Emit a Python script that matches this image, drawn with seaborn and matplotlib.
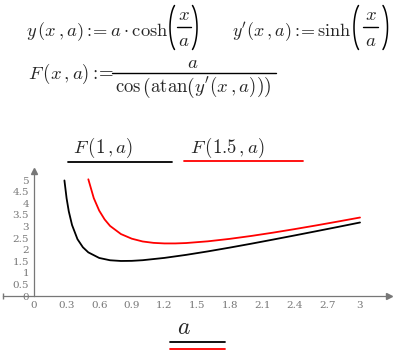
import numpy as np
import pandas as pd
import matplotlib
matplotlib.use("Agg")
import matplotlib.pyplot as plt
import seaborn as sns

# Values
a_black = [0.28, 0.30, 0.32, 0.35, 0.40, 0.45, 0.50, 0.60, 0.70, 0.80, 0.90, 1.00,
           1.20, 1.40, 1.60, 1.80, 2.00, 2.20, 2.40, 2.60, 2.80, 3.00]
F_black = [4.98, 4.21, 3.65, 3.06, 2.45, 2.10, 1.88, 1.64, 1.54, 1.51, 1.515, 1.543,
           1.642, 1.773, 1.923, 2.085, 2.255, 2.432, 2.612, 2.795, 2.980, 3.168]
a_red = [0.50, 0.55, 0.60, 0.65, 0.70, 0.80, 0.90, 1.00, 1.10, 1.20, 1.30, 1.40,
         1.60, 1.80, 2.00, 2.20, 2.40, 2.60, 2.80, 3.00]
F_red = [5.03, 4.22, 3.68, 3.30, 3.02, 2.67, 2.47, 2.35, 2.29, 2.266, 2.266, 2.283,
         2.357, 2.462, 2.589, 2.731, 2.884, 3.045, 3.212, 3.383]
x_ticks = [0, 0.3, 0.6, 0.9, 1.2, 1.5, 1.8, 2.1, 2.4, 2.7, 3]
x_tick_labels = ["0", "0.3", "0.6", "0.9", "1.2", "1.5", "1.8", "2.1", "2.4", "2.7", "3"]
y_ticks = [0, 0.5, 1, 1.5, 2, 2.5, 3, 3.5, 4, 4.5, 5]
y_tick_labels = ["0", "0.5", "1", "1.5", "2", "2.5", "3", "3.5", "4", "4.5", "5"]
series_names = ["F(1,a)", "F(1.5,a)"]

sns.set_style("white")
plt.rcParams["mathtext.fontset"] = "cm"

df = pd.concat([
    pd.DataFrame({"a": a_black, "F": F_black, "s": series_names[0]}),
    pd.DataFrame({"a": a_red, "F": F_red, "s": series_names[1]}),
])

W, H = 400, 355
fig = plt.figure(figsize=(W / 100, H / 100), dpi=100)

x0px, x3px = 34, 360
ppu_x = (x3px - x0px) / 3.0
y0px, y5px = 296, 180
ppu_y = (y0px - y5px) / 5.0
ax_l, ax_r = 2, 392
xmin = (ax_l - x0px) / ppu_x
xmax = (ax_r - x0px) / ppu_x
ymin, ymax = -0.3, 5.45
bot_px = y0px - ymin * ppu_y
top_px = y0px - ymax * ppu_y
ax = fig.add_axes([ax_l / W, (H - bot_px) / H, (ax_r - ax_l) / W, (bot_px - top_px) / H])

sns.lineplot(data=df, x="a", y="F", hue="s", palette=["black", "red"],
             ax=ax, legend=False, linewidth=1.3, sort=False, estimator=None)

ax.set_xlim(xmin, xmax)
ax.set_ylim(ymin, ymax)
gray = "#777777"
for s in ["top", "right"]:
    ax.spines[s].set_visible(False)
ax.spines["left"].set_position(("data", 0))
ax.spines["bottom"].set_position(("data", 0))
for s in ["left", "bottom"]:
    ax.spines[s].set_color(gray)
    ax.spines[s].set_linewidth(0.9)
ax.spines["left"].set_bounds(0, ymax - 0.05)
ax.spines["bottom"].set_bounds(xmin + 0.01, xmax - 0.03)
ax.plot([xmax - 0.03], [0], marker=">", color=gray, markersize=5, clip_on=False)
ax.plot([0], [ymax - 0.05], marker="^", color=gray, markersize=5, clip_on=False)
ax.plot([xmin + 0.01], [0], marker="|", color=gray, markersize=5, clip_on=False)

ax.set_xticks(x_ticks)
ax.set_xticklabels(x_tick_labels)
ax.set_yticks(y_ticks)
ax.set_yticklabels(y_tick_labels)
ax.tick_params(axis="both", direction="inout", length=5, width=0.8, color=gray,
               labelcolor=gray, labelsize=7.5, pad=1)
for lab in ax.get_xticklabels() + ax.get_yticklabels():
    lab.set_family("DejaVu Serif")
ax.set_xlabel("")
ax.set_ylabel("")
ax.patch.set_alpha(0)


def T(x, y, s, fs=13.5, ha="left", va="center"):
    fig.text(x / W, 1 - y / H, s, fontsize=fs, ha=ha, va=va)


def HL(x1, x2, y, color="black", lw=1.0):
    fig.add_artist(plt.Line2D([x1 / W, x2 / W], [1 - y / H, 1 - y / H], color=color, lw=lw))


def PAREN(x_mid, x_end, y_c, half_h, lw=1.1):
    # big bracket drawn as an elliptic arc (x_mid: bulge, x_end: tips)
    th = np.radians(60)
    t = np.linspace(-th, th, 40)
    w = (x_end - x_mid) / (1 - np.cos(th))
    h = half_h / np.sin(th)
    xs = x_mid + w * (1 - np.cos(t))
    ys = y_c + h * np.sin(t)
    fig.add_artist(plt.Line2D(xs / W, 1 - ys / H, color="black", lw=lw,
                              solid_capstyle="round"))


defn = r"{:}\!\!="
# formula 1: y(x,a) := a*cosh(x/a)
T(168, 32, r"$y\,(x\,,a)" + defn + r"a\cdot\cosh$", fs=13.3, ha="right")
PAREN(170, 174.5, 27.5, 22)
T(183.5, 15, r"$x$", ha="center")
HL(177, 191, 27)
T(183.5, 40, r"$a$", ha="center")
PAREN(197, 192.5, 27.5, 22)
# formula 2: y'(x,a) := sinh(x/a)
T(352, 32, r"$y'(x\,,a)" + defn + r"\sinh$", fs=13, ha="right")
PAREN(354, 358.5, 27.5, 22)
T(370.5, 15, r"$x$", ha="center")
HL(363, 378, 27)
T(370.5, 40, r"$a$", ha="center")
PAREN(387.5, 383, 27.5, 22)
# formula 3: F(x,a) := a / cos(atan(y'(x,a)))
T(28, 74, r"$F\,(x\,,a)" + defn + r"$")
T(193, 62, r"$a$", ha="center")
HL(112, 276, 73)
T(193, 87, r"$\cos\left(\mathrm{atan}\left(y'(x\,,a)\right)\right)$", ha="center")

# legend
T(73, 148, r"$F\,(1\,,a)$")
T(190, 148, r"$F\,(1.5\,,a)$")
HL(68, 172, 162, "black", 1.3)
HL(184, 303, 161, "red", 1.3)

# x label
T(184, 327, r"$a$", fs=17, ha="center")
HL(170, 225, 342, "black", 1.3)
HL(170, 225, 349, "red", 1.3)

fig.savefig("out.png", dpi=100)
